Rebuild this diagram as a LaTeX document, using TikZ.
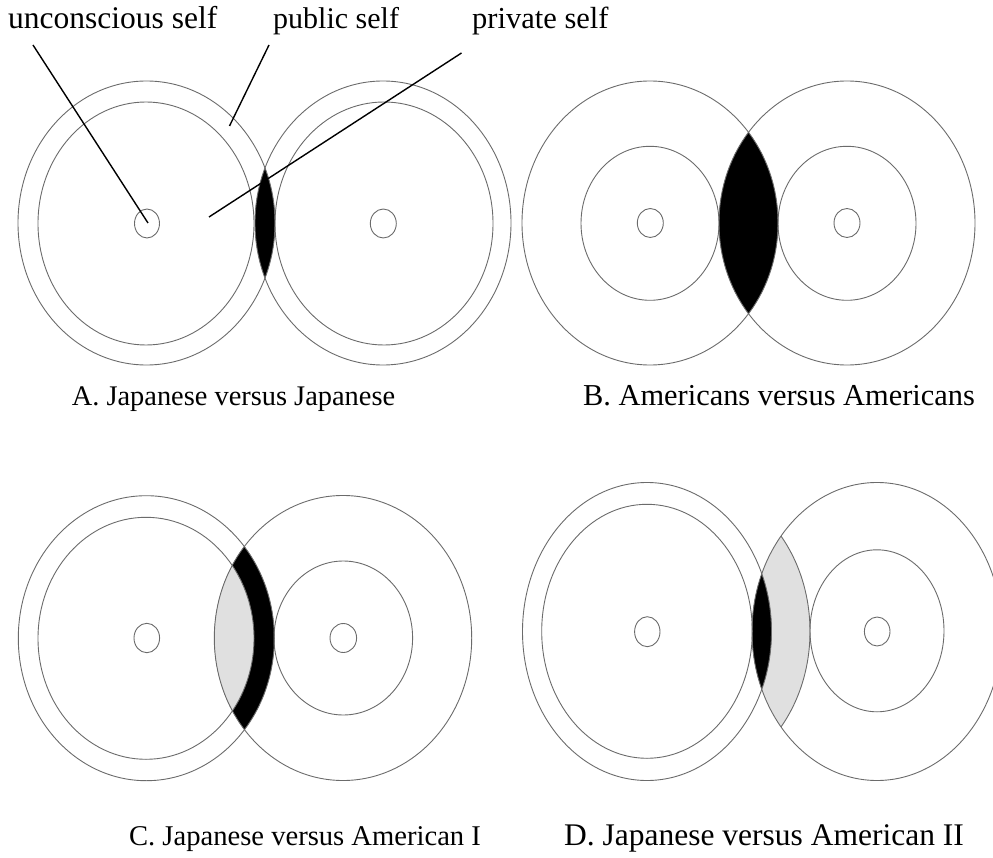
\documentclass[tikz,border=0pt]{standalone}
\usepackage{fontspec}
\setmainfont{Liberation Serif}
\begin{document}
\begin{tikzpicture}[x=1pt,y=-1pt,
  ring/.style={draw=black!58,line width=0.9pt},
  leader/.style={draw=black,line width=1.4pt},
  lbl/.style={inner sep=0pt,anchor=base west,font=\fontsize{#1}{#1}\selectfont},
  caption/.style={inner sep=0pt,anchor=base,font=\fontsize{#1}{#1}\selectfont},
  shared/.style={fill=black},
  partial/.style={fill=black!12}]
\useasboundingbox (0,0) rectangle (993,858);
\clip (0,0) rectangle (993,858);

% ---------- A: Japanese versus Japanese ----------
\begin{scope}
  \clip (146.5,223) ellipse [x radius=128.5pt, y radius=142pt];
  \fill[shared] (383,223) ellipse [x radius=128pt, y radius=142pt];
\end{scope}
\draw[ring] (146.5,223) ellipse [x radius=128.5pt, y radius=142pt];
\draw[ring] (146,223.5) ellipse [x radius=108pt, y radius=121.5pt];
\draw[ring] (147,223.5) ellipse [x radius=12.5pt, y radius=14.5pt];
\draw[ring] (383,223) ellipse [x radius=128pt, y radius=142pt];
\draw[ring] (384,223.5) ellipse [x radius=109pt, y radius=121.5pt];
\draw[ring] (383.3,223.5) ellipse [x radius=13pt, y radius=14.5pt];

% labels and leader lines
\node[lbl=31.5] (uncon) at (8,29) {unconscious self};
\node[lbl=30] (public) at (273,29) {public self};
\node[lbl=30.5] (private) at (472,29) {private self};
\coordinate (uncon-start) at (33,45);
\coordinate (uncon-end) at (148,223);
\coordinate (public-start) at (269,45);
\coordinate (public-end) at (229.5,126);
\coordinate (private-start) at (461.5,53);
\coordinate (private-end) at (209,217);
\draw[leader] (uncon-start) -- (uncon-end);
\draw[leader] (public-start) -- (public-end);
\draw[leader] (private-start) -- (private-end);

\node[caption=28.4] (capA) at (233.5,405) {A. Japanese versus Japanese};

% ---------- B: Americans versus Americans ----------
\begin{scope}
  \clip (650,223) ellipse [x radius=128pt, y radius=142pt];
  \fill[shared] (847,223) ellipse [x radius=128pt, y radius=142pt];
\end{scope}
\draw[ring] (650,223) ellipse [x radius=128pt, y radius=142pt];
\draw[ring] (650,223.3) ellipse [x radius=69pt, y radius=77pt];
\draw[ring] (650.3,223) ellipse [x radius=13pt, y radius=14.5pt];
\draw[ring] (847,223) ellipse [x radius=128pt, y radius=142pt];
\draw[ring] (847,223.3) ellipse [x radius=69pt, y radius=77pt];
\draw[ring] (847,223) ellipse [x radius=13pt, y radius=14.5pt];

\node[caption=30.4] (capB) at (779,405) {B. Americans versus Americans};

% ---------- C: Japanese versus American I ----------
\begin{scope}
  \clip (146.3,638.2) ellipse [x radius=128pt, y radius=142.5pt];
  \fill[shared] (343,638) ellipse [x radius=128.7pt, y radius=142.5pt];
\end{scope}
\begin{scope}
  \clip (146,638.3) ellipse [x radius=108pt, y radius=121pt];
  \fill[partial] (343,638) ellipse [x radius=128.7pt, y radius=142.5pt];
\end{scope}
\draw[ring] (146.3,638.2) ellipse [x radius=128pt, y radius=142.5pt];
\draw[ring] (146,638.3) ellipse [x radius=108pt, y radius=121pt];
\draw[ring] (146.8,638) ellipse [x radius=12.8pt, y radius=14.7pt];
\draw[ring] (343,638) ellipse [x radius=128.7pt, y radius=142.5pt];
\draw[ring] (343.3,638) ellipse [x radius=69.3pt, y radius=77pt];
\draw[ring] (343.3,638) ellipse [x radius=13.3pt, y radius=14.5pt];

\node[caption=28.6] (capC) at (305,845) {C. Japanese versus American I};

% ---------- D: Japanese versus American II ----------
\begin{scope}
  \clip (877,631.5) ellipse [x radius=125pt, y radius=149pt];
  \fill[partial] (685,631.5) ellipse [x radius=125pt, y radius=149pt];
  \draw[ring] (685,631.5) ellipse [x radius=125pt, y radius=149pt];
\end{scope}
\begin{scope}
  \clip (647,631.5) ellipse [x radius=124.5pt, y radius=149pt];
  \fill[shared] (877,631.5) ellipse [x radius=125pt, y radius=149pt];
\end{scope}
\draw[ring] (647,631.5) ellipse [x radius=124.5pt, y radius=149pt];
\draw[ring] (647,631.3) ellipse [x radius=105.3pt, y radius=127pt];
\draw[ring] (647.3,631.7) ellipse [x radius=12.7pt, y radius=15pt];
\draw[ring] (877,631.5) ellipse [x radius=125pt, y radius=149pt];
\draw[ring] (877,630.8) ellipse [x radius=67pt, y radius=81pt];
\draw[ring] (877.2,631.5) ellipse [x radius=12.8pt, y radius=14.5pt];

\node[caption=31.5] (capD) at (764,845) {D. Japanese versus American II};
\end{tikzpicture}
\end{document}
